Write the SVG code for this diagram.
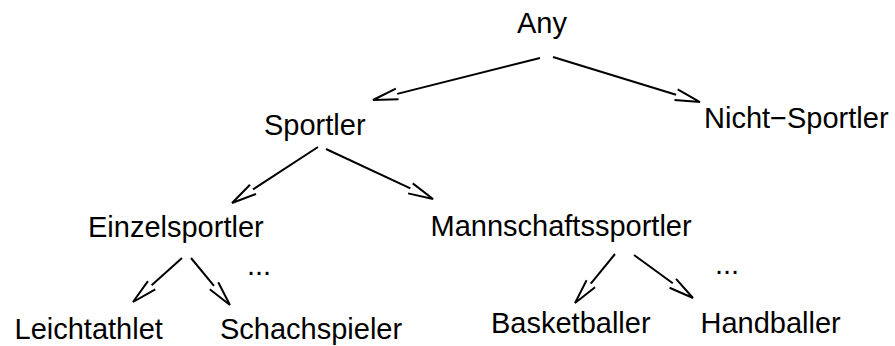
<svg xmlns="http://www.w3.org/2000/svg" width="895" height="346" viewBox="0 0 895 346">
  <style>
    .label { font-family: "Liberation Sans", Arial, sans-serif; font-size: 29px; fill: #000; }
    .edge { stroke: #000; stroke-width: 2; fill: none; marker-end: url(#openHead); }
  </style>
  <defs>
    <!-- open V head, drawn beyond the shaft end -->
    <marker id="openHead" markerUnits="userSpaceOnUse" markerWidth="30" markerHeight="14" refX="0" refY="0" orient="auto" overflow="visible">
      <path d="M0,-5.5 L25,0 L0,5.5" fill="none" stroke="#000" stroke-width="2"/>
    </marker>
  </defs>

  <g id="connectors">
    <line class="edge" x1="540" y1="58" x2="397.2" y2="93.9"/>
    <line class="edge" x1="553" y1="57" x2="676.1" y2="94.7"/>
    <line class="edge" x1="318" y1="147" x2="253" y2="189.4"/>
    <line class="edge" x1="326" y1="149" x2="410.4" y2="188.4"/>
    <line class="edge" x1="182" y1="258" x2="151.6" y2="285.3"/>
    <line class="edge" x1="191" y1="258" x2="214" y2="285.8"/>
    <line class="edge" x1="615" y1="254" x2="590.8" y2="283.7"/>
    <line class="edge" x1="634" y1="255" x2="672.8" y2="283.3"/>
  </g>

  <g id="any"><text class="label" x="517" y="33">Any</text></g>
  <g id="sportler"><text class="label" x="264" y="135">Sportler</text></g>
  <g id="nicht-sportler"><text class="label" x="704" y="128">Nicht−Sportler</text></g>
  <g id="einzelsportler"><text class="label" x="88" y="237">Einzelsportler</text></g>
  <g id="mannschaftssportler"><text class="label" x="430.5" y="236">Mannschaftssportler</text></g>
  <g id="leichtathlet"><text class="label" x="14.5" y="339">Leichtathlet</text></g>
  <g id="schachspieler"><text class="label" x="220" y="339">Schachspieler</text></g>
  <g id="basketballer"><text class="label" x="491" y="333">Basketballer</text></g>
  <g id="handballer"><text class="label" x="700.5" y="333">Handballer</text></g>
  <g id="more-einzel"><text class="label" x="247" y="275">...</text></g>
  <g id="more-mannschaft"><text class="label" x="715" y="274">...</text></g>
</svg>
